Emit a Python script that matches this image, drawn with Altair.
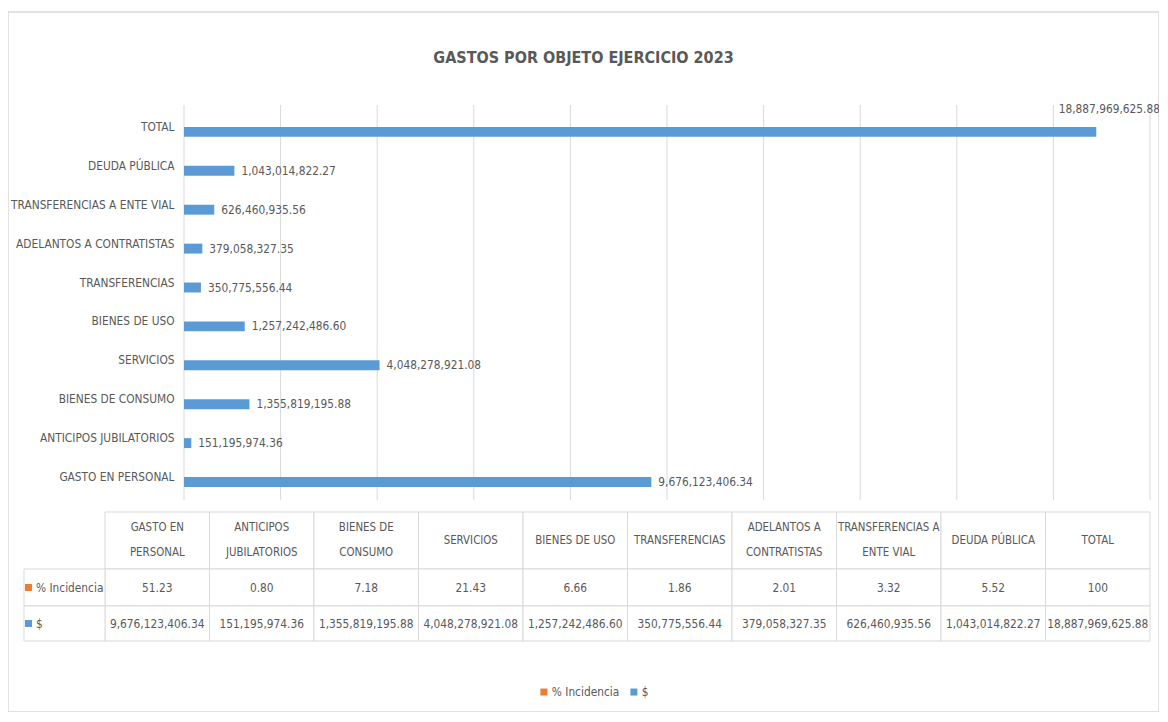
import altair as alt
import pandas as pd

# ---- data -------------------------------------------------------------
categories = ["GASTO EN PERSONAL", "ANTICIPOS JUBILATORIOS", "BIENES DE CONSUMO",
              "SERVICIOS", "BIENES DE USO", "TRANSFERENCIAS",
              "ADELANTOS A CONTRATISTAS", "TRANSFERENCIAS A ENTE VIAL",
              "DEUDA PÚBLICA", "TOTAL"]
header_labels = ["GASTO EN\nPERSONAL", "ANTICIPOS\nJUBILATORIOS", "BIENES DE\nCONSUMO",
                 "SERVICIOS", "BIENES DE USO", "TRANSFERENCIAS",
                 "ADELANTOS A\nCONTRATISTAS", "TRANSFERENCIAS A\nENTE VIAL",
                 "DEUDA PÚBLICA", "TOTAL"]
amounts = [9676123406.34, 151195974.36, 1355819195.88, 4048278921.08, 1257242486.60,
           350775556.44, 379058327.35, 626460935.56, 1043014822.27, 18887969625.88]
incidence = [51.23, 0.80, 7.18, 21.43, 6.66, 1.86, 2.01, 3.32, 5.52, 100]
series = ["% Incidencia", "$"]
series_colors = ["#ED7D31", "#5B9BD5"]
grid_values = [0, 2e9, 4e9, 6e9, 8e9, 10e9, 12e9, 14e9, 16e9, 18e9, 20e9]
title_text = "GASTOS POR OBJETO EJERCICIO 2023"

FONT = "DejaVu Sans Condensed, DejaVu Sans, sans-serif"
TXT = "#595959"
LINE = "#d9d9d9"
FS = 11.8
HFS = 11.4


def fmt_amount(v):
    return f"{v:,.2f}"


def fmt_pct(v):
    return "100" if v == 100 else f"{v:.2f}"


# ---- tables -----------------------------------------------------------
bar_rows = []
for c, a, p in zip(categories, amounts, incidence):
    bar_rows.append({"cat": c, "series": "% Incidencia", "value": p, "label": fmt_pct(p)})
    bar_rows.append({"cat": c, "series": "$", "value": a, "label": fmt_amount(a)})
bar_df = pd.DataFrame(bar_rows)
amt_df = bar_df[bar_df.series == "$"]
amt_main = amt_df[amt_df.cat != "TOTAL"]
amt_total = amt_df[amt_df.cat == "TOTAL"]
grid_df = pd.DataFrame({"t": grid_values})

cells = []
for i, (h, p, a) in enumerate(zip(header_labels, incidence, amounts)):
    kind = "head2" if "\n" in h else "head1"
    cells.append({"c0": i, "c1": i + 1, "r0": 0, "r1": 1, "cm": i + 0.5, "rm": 0.5, "txt": h, "kind": kind})
    cells.append({"c0": i, "c1": i + 1, "r0": 1, "r1": 2, "cm": i + 0.5, "rm": 1.5, "txt": fmt_pct(p), "kind": "num"})
    cells.append({"c0": i, "c1": i + 1, "r0": 2, "r1": 3, "cm": i + 0.5, "rm": 2.5, "txt": fmt_amount(a), "kind": "num"})
cell_df = pd.DataFrame(cells)
rowhead_df = pd.DataFrame({"c0": [-1, -1], "c1": [0, 0], "r0": [1, 2], "r1": [2, 3],
                           "rm": [1.5, 2.5], "series": series})

# ---- scales -----------------------------------------------------------
cat_top = categories[::-1]
ybar_scale = alt.Scale(domain=cat_top, range=[95.5, 484.5], paddingInner=0.49, paddingOuter=0.245)
xbar_scale = alt.Scale(domain=[0, 20e9], range=[176, 1142], nice=False, zero=True)
xtab_scale = alt.Scale(domain=[-1, 0, 10], range=[16, 97, 1142], nice=False, zero=False)
ytab_scale = alt.Scale(domain=[0, 1, 2, 3], range=[500, 557, 594, 629], nice=False, zero=False)
color_scale = alt.Scale(domain=series, range=series_colors)

# ---- bar section ------------------------------------------------------
gridlines = alt.Chart(grid_df).mark_rule(color=LINE, strokeWidth=1).encode(
    x=alt.X("t:Q", scale=xbar_scale, axis=None),
    y=alt.value(93), y2=alt.value(488),
)

bars = alt.Chart(bar_df).mark_bar().encode(
    x=alt.X("value:Q", scale=xbar_scale, axis=None),
    y=alt.Y("cat:N", scale=ybar_scale, sort=cat_top,
            axis=alt.Axis(orient="left", offset=-176, labelPadding=10, domain=False,
                          ticks=False, grid=False, title=None, labelFont=FONT,
                          labelFontSize=FS, labelColor=TXT, labelLimit=400)),
    yOffset=alt.YOffset("series:N", scale=alt.Scale(domain=series)),
    color=alt.Color("series:N", scale=color_scale,
                    legend=alt.Legend(orient="none", legendX=530, legendY=674,
                                      direction="horizontal", title=None,
                                      symbolType="square", symbolSize=49,
                                      symbolStrokeWidth=0, labelFont=FONT,
                                      labelFontSize=FS, labelColor=TXT,
                                      columnPadding=8, labelOffset=2, padding=0)),
)

value_labels = alt.Chart(amt_main).mark_text(
    align="left", baseline="middle", dx=7, dy=5, font=FONT, fontSize=FS, color=TXT
).encode(
    x=alt.X("value:Q", scale=xbar_scale, axis=None),
    y=alt.Y("cat:N", scale=ybar_scale, sort=cat_top, axis=None),
    text="label:N",
)

total_label = alt.Chart(amt_total).mark_text(
    align="center", baseline="middle", dx=13, dy=-18, font=FONT, fontSize=FS, color=TXT
).encode(
    x=alt.X("value:Q", scale=xbar_scale, axis=None),
    y=alt.Y("cat:N", scale=ybar_scale, sort=cat_top, axis=None),
    text="label:N",
)

# ---- data table -------------------------------------------------------
cell_rects = alt.Chart(cell_df).mark_rect(fill="white", stroke=LINE, strokeWidth=1).encode(
    x=alt.X("c0:Q", scale=xtab_scale, axis=None), x2="c1:Q",
    y=alt.Y("r0:Q", scale=ytab_scale, axis=None), y2="r1:Q",
)
rowhead_rects = alt.Chart(rowhead_df).mark_rect(fill="white", stroke=LINE, strokeWidth=1).encode(
    x=alt.X("c0:Q", scale=xtab_scale, axis=None), x2="c1:Q",
    y=alt.Y("r0:Q", scale=ytab_scale, axis=None), y2="r1:Q",
)
head1_text = alt.Chart(cell_df[cell_df.kind == "head1"]).mark_text(
    align="center", baseline="middle", font=FONT, fontSize=HFS, color=TXT
).encode(
    x=alt.X("cm:Q", scale=xtab_scale, axis=None),
    y=alt.Y("rm:Q", scale=ytab_scale, axis=None),
    text="txt:N",
)
head2_text = alt.Chart(cell_df[cell_df.kind == "head2"]).mark_text(
    align="center", baseline="middle", lineBreak="\n", lineHeight=25, dy=-12.5,
    font=FONT, fontSize=HFS, color=TXT
).encode(
    x=alt.X("cm:Q", scale=xtab_scale, axis=None),
    y=alt.Y("rm:Q", scale=ytab_scale, axis=None),
    text="txt:N",
)
num_text = alt.Chart(cell_df[cell_df.kind == "num"]).mark_text(
    align="center", baseline="middle", font=FONT, fontSize=FS, color=TXT
).encode(
    x=alt.X("cm:Q", scale=xtab_scale, axis=None),
    y=alt.Y("rm:Q", scale=ytab_scale, axis=None),
    text="txt:N",
)
rowhead_sq = alt.Chart(rowhead_df).mark_square(size=49, filled=True, opacity=1, xOffset=4.5).encode(
    x=alt.X("c0:Q", scale=xtab_scale, axis=None),
    y=alt.Y("rm:Q", scale=ytab_scale, axis=None),
    color=alt.Color("series:N", scale=color_scale, legend=None),
)
rowhead_text = alt.Chart(rowhead_df).mark_text(
    align="left", baseline="middle", dx=12, font=FONT, fontSize=FS, color=TXT
).encode(
    x=alt.X("c0:Q", scale=xtab_scale, axis=None),
    y=alt.Y("rm:Q", scale=ytab_scale, axis=None),
    text="series:N",
)

chart = alt.layer(
    gridlines, bars, value_labels, total_label,
    cell_rects, rowhead_rects, head1_text, head2_text, num_text, rowhead_sq, rowhead_text,
).resolve_scale(
    x="independent", y="independent", color="independent"
).properties(
    width=1151, height=700,
    padding={"left": 0, "top": 4, "right": 0, "bottom": 0},
    autosize=alt.AutoSizeParams(type="none"),
    background="white",
    title=alt.TitleParams(title_text, font=FONT, fontSize=16, fontWeight="bold",
                          color=TXT, anchor="middle", offset=-62, baseline="middle"),
).configure_view(stroke=LINE, strokeWidth=1.5)

chart.save("out.html", embed_options={"renderer": "svg", "actions": False})
